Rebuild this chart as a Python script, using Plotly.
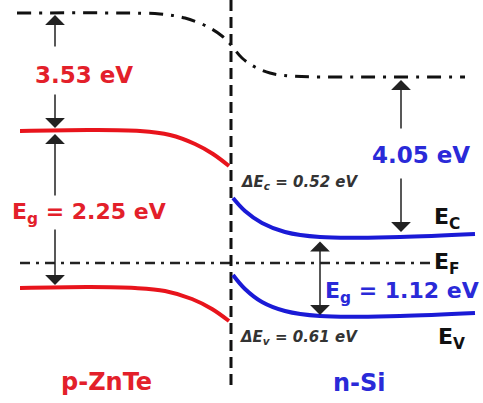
import plotly.graph_objects as go

# Band diagram geometry (diagram units, y grows downward = lower energy)
vac_x = [17, 120, 160, 185, 208, 222, 231, 242, 255, 270, 290, 360, 465]
vac_y = [13, 13, 14, 18, 27, 36, 45, 58, 67, 73, 76, 77, 77]

znte_cb_x = [20, 90, 140, 170, 195, 213, 229]
znte_cb_y = [131, 130, 131, 135, 144, 154, 166]
znte_vb_x = [20, 90, 135, 165, 192, 212, 229]
znte_vb_y = [288, 287, 288, 291, 299, 309, 321]

si_cb_x = [233, 245, 262, 285, 320, 400, 475]
si_cb_y = [198, 211, 223, 232, 237, 237, 234]
si_vb_x = [233, 245, 262, 285, 320, 400, 475]
si_vb_y = [275, 289, 302, 311, 316, 316, 313]

fermi_x = [20, 432]
fermi_y = [263, 263]

interface_x = [231, 231]
interface_y = [0, 385]

# arrows: (tail_x, tail_y, tip_x, tip_y)
arrows = [
    (55, 48, 55, 15),
    (55, 93, 55, 128),
    (55, 197, 55, 134),
    (55, 228, 55, 285),
    (401, 130, 401, 80),
    (401, 177, 401, 232),
]
double_arrow = (320, 240, 320, 315)

RED = "#e8141c"
BLUE = "#1a1ad6"
RED_T = "#e3202a"
BLUE_T = "#2a2ad8"

fig = go.Figure()

def line(x, y, color, width, dash="solid", shape="spline"):
    fig.add_trace(go.Scatter(x=x, y=y, mode="lines",
                             line=dict(color=color, width=width, dash=dash, shape=shape,
                                       smoothing=1.0),
                             hoverinfo="skip", showlegend=False))

line(vac_x, vac_y, "#111111", 3, "14px,8px,3px,8px")
line(fermi_x, fermi_y, "#222222", 2.5, "10px,6px,3px,6px", "linear")
line(interface_x, interface_y, "#111111", 3, "11px,6px", "linear")
line(znte_cb_x, znte_cb_y, RED, 4)
line(znte_vb_x, znte_vb_y, RED, 4)
line(si_cb_x, si_cb_y, BLUE, 4)
line(si_vb_x, si_vb_y, BLUE, 4)

for (tx, ty, hx, hy) in arrows:
    fig.add_annotation(x=hx, y=hy, ax=tx, ay=ty, xref="x", yref="y",
                       axref="x", ayref="y", text="", showarrow=True,
                       arrowhead=1, arrowsize=2.2, arrowwidth=1.5,
                       arrowcolor="#222222", standoff=0)
tx, ty, hx, hy = double_arrow
fig.add_annotation(x=hx, y=hy, ax=tx, ay=ty, xref="x", yref="y",
                   axref="x", ayref="y", text="", showarrow=True,
                   arrowhead=1, startarrowhead=1, arrowside="end+start",
                   arrowsize=2.2, startarrowsize=2.2, arrowwidth=1.5,
                   arrowcolor="#222222", standoff=0, startstandoff=0)

FONT = "DejaVu Sans"
labels = [
    ("<b>3.53 eV</b>", 84, 75, 23, RED_T),
    ("<b>E<sub>g</sub> = 2.25 eV</b>", 89, 213, 22, RED_T),
    ("<b>p-ZnTe</b>", 106, 382, 24, RED_T),
    ("<b>4.05 eV</b>", 421, 155, 23, BLUE_T),
    ("<b>E<sub>g</sub> = 1.12 eV</b>", 402, 292, 22, BLUE_T),
    ("<b>n-Si</b>", 359, 383, 24, BLUE_T),
    ("<b>E<sub>C</sub></b>", 447, 218, 22, "#111111"),
    ("<b>E<sub>F</sub></b>", 447, 263, 22, "#111111"),
    ("<b>E<sub>V</sub></b>", 451, 338, 22, "#111111"),
    ("<b><i>ΔE<sub>c</sub> = 0.52 eV</i></b>", 300, 182, 15, "#333333"),
    ("<b><i>ΔE<sub>v</sub> = 0.61 eV</i></b>", 299, 337, 15, "#333333"),
]
for t, x, y, s, c in labels:
    fig.add_annotation(x=x, y=y, xref="x", yref="y", text=t, showarrow=False,
                       font=dict(family=FONT, size=s, color=c),
                       xanchor="center", yanchor="middle")

fig.update_layout(
    width=483, height=403, margin=dict(l=0, r=0, t=0, b=0),
    paper_bgcolor="white", plot_bgcolor="white",
    xaxis=dict(range=[0, 483], visible=False, fixedrange=True),
    yaxis=dict(range=[403, 0], visible=False, fixedrange=True),
)
fig.write_html("out.html")
